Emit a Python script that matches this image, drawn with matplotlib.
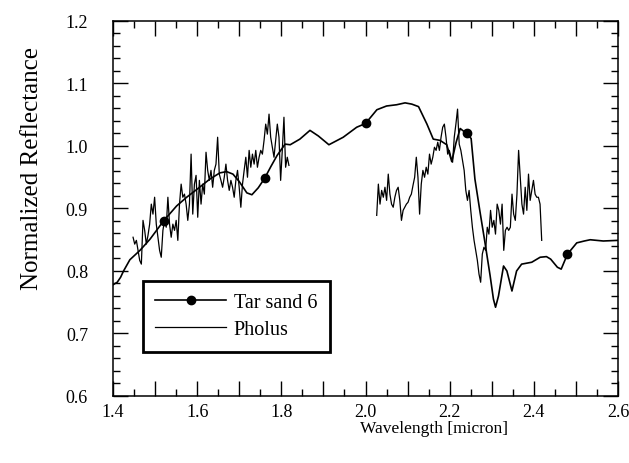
import numpy as np
import matplotlib
matplotlib.use("Agg")
import matplotlib.pyplot as plt
from matplotlib.ticker import MultipleLocator, FuncFormatter

plt.rcParams['font.family'] = ['Liberation Serif', 'DejaVu Serif']

# Tar sand 6 model spectrum (smooth curve)
tar_wl = [1.400, 1.410, 1.418, 1.425, 1.440, 1.464, 1.488, 1.520, 1.551, 1.575,
          1.600, 1.630, 1.654, 1.670, 1.685, 1.700, 1.718, 1.730, 1.745, 1.760,
          1.775, 1.790, 1.809, 1.821, 1.844, 1.868, 1.888, 1.913, 1.947, 1.979,
          2.000, 2.027, 2.050, 2.074, 2.094, 2.110, 2.126, 2.146, 2.161, 2.177,
          2.193, 2.205, 2.215, 2.225, 2.240, 2.251, 2.260, 2.272, 2.284, 2.296,
          2.304, 2.309, 2.316, 2.328, 2.336, 2.348, 2.359, 2.371, 2.395, 2.415,
          2.430, 2.440, 2.456, 2.465, 2.480, 2.502, 2.520, 2.534, 2.565, 2.600]
tar_refl = [0.778, 0.782, 0.790, 0.800, 0.818, 0.833, 0.851, 0.880, 0.904, 0.918,
            0.931, 0.947, 0.957, 0.959, 0.955, 0.943, 0.925, 0.922, 0.933, 0.948,
            0.967, 0.985, 1.003, 1.002, 1.011, 1.025, 1.016, 1.002, 1.014, 1.030,
            1.036, 1.058, 1.064, 1.066, 1.069, 1.067, 1.063, 1.035, 1.011, 1.009,
            1.002, 0.975, 1.005, 1.028, 1.020, 1.012, 0.947, 0.895, 0.845, 0.793,
            0.755, 0.742, 0.760, 0.808, 0.800, 0.768, 0.800, 0.811, 0.814, 0.822,
            0.823, 0.819, 0.806, 0.803, 0.827, 0.845, 0.848, 0.850, 0.848, 0.849]
tar_marker_wl = [1.52, 1.76, 2.00, 2.24, 2.48]

# Pholus spectrum, two segments
pholus1_range = (1.4476, 1.818)
pholus1_refl = [0.854, 0.843, 0.849, 0.833, 0.817, 0.811, 0.881, 0.865, 0.843, 0.857,
                0.875, 0.907, 0.891, 0.918, 0.875, 0.854, 0.833, 0.822, 0.865, 0.881,
                0.870, 0.918, 0.875, 0.854, 0.875, 0.865, 0.881, 0.849, 0.907, 0.939,
                0.918, 0.923, 0.907, 0.881, 0.907, 0.987, 0.891, 0.939, 0.953, 0.886,
                0.945, 0.907, 0.939, 0.923, 0.990, 0.961, 0.945, 0.961, 0.934, 0.961,
                0.971, 1.014, 0.955, 0.945, 0.934, 0.950, 0.971, 0.945, 0.929, 0.945,
                0.934, 0.918, 0.945, 0.961, 0.934, 0.902, 0.939, 0.961, 0.982, 0.950,
                0.993, 0.966, 0.987, 0.971, 0.993, 0.966, 0.982, 0.993, 0.987, 1.009,
                1.035, 1.019, 1.051, 1.014, 0.998, 0.982, 1.009, 1.035, 1.014, 0.945,
                0.993, 1.046, 0.966, 0.982, 0.969]
pholus2_range = (2.0266, 2.4187)
pholus2_refl = [0.889, 0.939, 0.907, 0.929, 0.918, 0.934, 0.913, 0.955, 0.923, 0.907,
                0.902, 0.918, 0.929, 0.934, 0.913, 0.881, 0.897, 0.902, 0.907, 0.910,
                0.918, 0.923, 0.937, 0.950, 0.982, 0.950, 0.891, 0.939, 0.961, 0.950,
                0.966, 0.955, 0.987, 0.971, 0.982, 0.998, 0.993, 1.006, 0.993, 1.014,
                1.030, 1.035, 1.014, 0.987, 0.993, 0.982, 0.974, 1.014, 1.035, 1.059,
                1.003, 0.993, 0.977, 0.961, 0.929, 0.913, 0.929, 0.897, 0.870, 0.849,
                0.833, 0.817, 0.795, 0.782, 0.827, 0.838, 0.833, 0.870, 0.859, 0.897,
                0.870, 0.881, 0.859, 0.907, 0.897, 0.875, 0.907, 0.833, 0.865, 0.870,
                0.865, 0.870, 0.923, 0.891, 0.881, 0.923, 0.993, 0.950, 0.907, 0.891,
                0.934, 0.897, 0.955, 0.913, 0.929, 0.945, 0.923, 0.918, 0.918, 0.907,
                0.849]

xtick_labels = ['1.4', '1.6', '1.8', '2.0', '2.2', '2.4', '2.6']

fig = plt.figure(figsize=(6.29, 4.64), dpi=100)
ax = fig.add_axes([0.1797, 0.1444, 0.8028, 0.8082])

tar_wl = np.array(tar_wl)
marker_idx = [int(np.argmin(np.abs(tar_wl - w))) for w in tar_marker_wl]
ax.plot(tar_wl, tar_refl, color='black', lw=1.2, marker='o', markersize=6,
        markevery=marker_idx, label='Tar sand 6')

wl1 = np.linspace(pholus1_range[0], pholus1_range[1], len(pholus1_refl))
wl2 = np.linspace(pholus2_range[0], pholus2_range[1], len(pholus2_refl))
ax.plot(wl1, pholus1_refl, color='black', lw=0.9, label='Pholus')
ax.plot(wl2, pholus2_refl, color='black', lw=0.9)

ax.set_xlim(1.4, 2.6)
ax.set_ylim(0.6, 1.2)

ax.xaxis.set_major_locator(MultipleLocator(0.1))
ax.xaxis.set_minor_locator(MultipleLocator(0.05))
ax.yaxis.set_major_locator(MultipleLocator(0.1))
ax.yaxis.set_minor_locator(MultipleLocator(0.02))

def xfmt(v, pos):
    lab = '%.1f' % v
    return lab if lab in xtick_labels else ''

ax.xaxis.set_major_formatter(FuncFormatter(xfmt))
ax.yaxis.set_major_formatter(FuncFormatter(lambda v, p: '%.1f' % v))

ax.tick_params(which='both', direction='in', top=True, right=True, width=1.0)
ax.tick_params(which='major', length=11)
ax.tick_params(which='minor', length=5)
ax.tick_params(axis='x', labelsize=13, pad=5)
ax.tick_params(axis='y', labelsize=13, pad=18)
for s in ax.spines.values():
    s.set_linewidth(1.1)

ax.set_xlabel('Wavelength [micron]', fontsize=12.5)
ax.xaxis.set_label_coords(0.636, -0.064)
ax.set_ylabel('Normalized Reflectance', fontsize=18)
ax.yaxis.set_label_coords(-0.139, 0.609)

leg = ax.legend(loc='lower left', bbox_to_anchor=(0.059, 0.118), borderaxespad=0,
                fancybox=False, framealpha=1, edgecolor='black', fontsize=14.5,
                handlelength=3.5, handletextpad=0.4, borderpad=0.62, labelspacing=0.4)
leg.get_frame().set_linewidth(2.0)

fig.savefig('out.png', dpi=100)
